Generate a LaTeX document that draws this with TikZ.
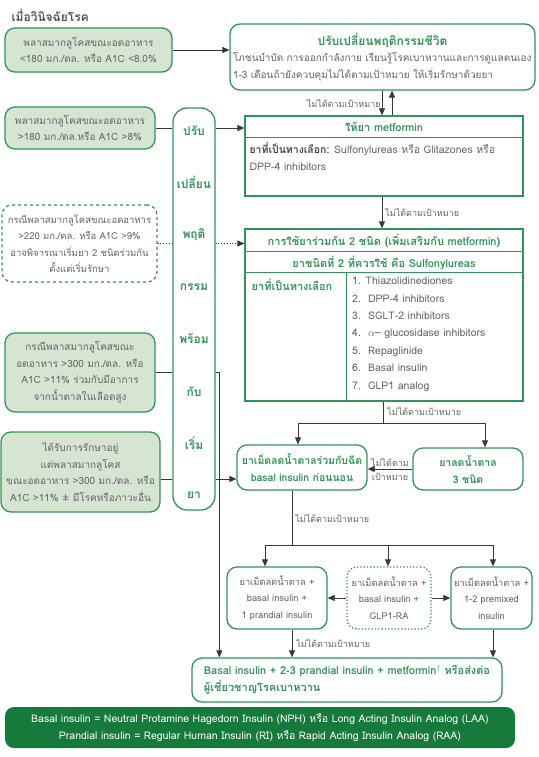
\documentclass[tikz,border=0pt]{standalone}
\usepackage{fontspec}
\setmainfont{Loma}[Script=Thai]
\definecolor{dmGreen}{RGB}{50,148,88}
\definecolor{dmFill}{RGB}{214,228,210}
\definecolor{dmDark}{RGB}{22,122,58}
\definecolor{dmGrey}{RGB}{100,100,100}
\definecolor{dmLine}{RGB}{55,55,55}
\usepackage{tikz}
\usetikzlibrary{arrows.meta,positioning,calc}

\begin{document}
\begin{tikzpicture}[x=1pt, y=-1pt,
  cbox/.style={draw=dmGreen, line width=1.3pt, rounded corners=10pt, fill=dmFill,
               text=dmGrey, align=center, inner sep=0pt,
               font=\fontsize{10}{16.5}\selectfont},
  wbox/.style={cbox, fill=white},
  tbox/.style={draw=dmGreen, line width=1.3pt, inner sep=0pt},
  head/.style={text=dmGreen, font=\fontsize{11}{17}\selectfont\bfseries, inner sep=0pt},
  body/.style={text=dmGrey, font=\fontsize{10.5}{17.4}\selectfont, align=left, inner sep=0pt},
  note/.style={text=dmGrey, font=\fontsize{9}{10}\selectfont, inner sep=1pt},
  link/.style={draw=dmLine, line width=0.8pt},
  arr/.style={link, -{Triangle[length=7pt,width=6pt]}}
]
  \useasboundingbox (0,0) rectangle (538,757);

  \node[anchor=west, text=dmGrey!80!black, font=\fontsize{12}{14}\selectfont\bfseries] (title) at (8,15) {เมื่อวินิจฉัยโรค};

  \node[cbox, minimum width=167pt, minimum height=44pt] (fast180low) at (88.5,50)
        {พลาสมากลูโคสขณะอดอาหาร\\<180 มก./ดล. หรือ A1C <8.0\%};
  \node[wbox, minimum width=305pt, minimum height=66pt, text width=299pt, align=left] (lifestyle) at (382.5,57)
        {{\centering\color{dmGreen}\fontsize{12}{17}\selectfont\bfseries ปรับเปลี่ยนพฤติกรรมชีวิต\par}
         โภชนบำบัด การออกกำลังกาย เรียนรู้โรคเบาหวานและการดูแลตนเอง\\
         1-3 เดือนถ้ายังควบคุมไม่ได้ตามเป้าหมาย ให้เริ่มรักษาด้วยยา};

  \node[cbox, minimum width=150pt, minimum height=42pt] (fast180) at (80,128)
        {พลาสมากลูโคสขณะอดอาหาร\\>180 มก./ดล.หรือ A1C >8\%};
  \node[wbox, dashed, minimum width=155pt, minimum height=77pt, font=\fontsize{9.5}{16.5}\selectfont] (fast220) at (79.5,243.5)
        {กรณีพลาสมากลูโคสขณะอดอาหาร\\>220 มก./ดล. หรือ A1C >9\%\\อาจพิจารณาเริ่มยา 2 ชนิดร่วมกัน\\ตั้งแต่เริ่มรักษา};
  \node[cbox, minimum width=150pt, minimum height=79pt] (fast300) at (80,372.5)
        {กรณีพลาสมากลูโคสขณะ\\อดอาหาร >300 มก./ดล. หรือ\\A1C >11\% ร่วมกับมีอาการ\\จากน้ำตาลในเลือดสูง};
  \node[cbox, minimum width=159pt, minimum height=80pt] (treated) at (80.5,472)
        {ได้รับการรักษาอยู่\\แต่พลาสมากลูโคส\\ขณะอดอาหาร >300 มก./ดล. หรือ\\A1C >11\% ± มีโรคหรือภาวะอื่น};

  \node[wbox, rounded corners=14pt, minimum width=42pt, minimum height=402pt] (behav) at (194,309) {};
  \foreach \w [count=\i] in {ปรับ,เปลี่ยน,พฤติ,กรรม,พร้อม,กับ,เริ่ม,ยา}
    \node[head, font=\fontsize{12}{14}\selectfont\bfseries] (word\i) at (194,78+52.2*\i) {\w};

  \node[tbox, minimum width=278pt, minimum height=80pt] (metformin) at (384,156) {};
  \node[head] (metformintitle) at (384,127) {ให้ยา metformin};
  \draw[tbox] ($(metformin.north west)+(0,22)$) -- ($(metformin.north east)+(0,22)$);
  \node[body, anchor=north west] (metforminalt) at ($(metformin.north west)+(5,27)$)
        {{\color{dmGrey!70!black}\bfseries ยาที่เป็นทางเลือก:} Sulfonylureas หรือ Glitazones หรือ\\DPP-4 inhibitors};

  \node[tbox, minimum width=278pt, minimum height=172pt] (combo) at (384,315) {};
  \node[head] (combotitle) at (384,241) {การใช้ยาร่วมกัน 2 ชนิด (เพิ่มเสริมกับ metformin)};
  \node[head] (combosecond) at (384,262.5) {ยาชนิดที่ 2 ที่ควรใช้ คือ Sulfonylureas};
  \draw[tbox] ($(combo.north west)+(0,23)$) -- ($(combo.north east)+(0,23)$);
  \draw[tbox] ($(combo.north west)+(0,44)$) -- ($(combo.north east)+(0,44)$);
  \draw[tbox] ($(combo.north west)+(102,44)$) -- ($(combo.south west)+(102,0)$);
  \node[head] (comboalt) at (292,285) {ยาที่เป็นทางเลือก};
  \node[body, anchor=north west] (combolist) at (352,277)
        {1. Thiazolidinediones\\2.\ \ DPP-4 inhibitors\\3.\ \ SGLT-2 inhibitors\\
         4.\ \ $\alpha$-- glucosidase inhibitors\\5.\ \ Repaglinide\\6.\ \ Basal insulin\\7.\ \ GLP1 analog};

  \node[wbox, head, font=\fontsize{10.5}{17}\selectfont\bfseries, minimum width=130pt, minimum height=45pt, align=center] (basal) at (302,467.5)
        {ยาเม็ดลดน้ำตาลร่วมกับฉีด\\basal insulin ก่อนนอน};
  \node[wbox, head, font=\fontsize{10.5}{17}\selectfont\bfseries, minimum width=110pt, minimum height=42pt, align=center] (triple) at (468,469)
        {ยาลดน้ำตาล\\3 ชนิด};

  \node[wbox, font=\fontsize{9.3}{16.5}\selectfont, minimum width=100pt, minimum height=62pt] (addbolus) at (277,598)
        {ยาเม็ดลดน้ำตาล +\\basal insulin +\\1 prandial insulin};
  \node[wbox, font=\fontsize{9.3}{16.5}\selectfont, dotted, minimum width=84pt, minimum height=62pt] (addglp) at (389,598)
        {ยาเม็ดลดน้ำตาล +\\basal insulin +\\GLP1-RA};
  \node[wbox, font=\fontsize{9.3}{16.5}\selectfont, minimum width=81pt, minimum height=62pt] (addpremix) at (491.5,598)
        {ยาเม็ดลดน้ำตาล +\\1-2 premixed\\insulin};

  \node[wbox, head, minimum width=310pt, minimum height=44pt, align=left] (final) at (347,680)
        {Basal insulin + 2-3 prandial insulin + metformin${}^{\dagger}$ หรือส่งต่อ\\ผู้เชี่ยวชาญโรคเบาหวาน};
  \node[fill=dmDark, rounded corners=9pt, text=white, minimum width=510pt, minimum height=41pt,
        align=center, font=\fontsize{10.5}{17}\selectfont] (legend) at (260,727.5)
        {Basal insulin = Neutral Protamine Hagedorn Insulin (NPH) หรือ Long Acting Insulin Analog (LAA)\\
         Prandial insulin = Regular Human Insulin (RI) หรือ Rapid Acting Insulin Analog (RAA)};

  \draw[arr] (fast180low.east) -- (fast180low.east -| lifestyle.west);
  \draw[arr] ([xshift=-0.5pt]lifestyle.south) -- ([xshift=-0.5pt]lifestyle.south |- metformin.north)
        node[note, midway, left] {ไม่ได้ตามเป้าหมาย};
  \draw[arr] ([xshift=9.5pt]lifestyle.south |- metformin.north) -- ([xshift=9.5pt]lifestyle.south);

  \draw[link] (fast180.east) -- (fast180.east -| behav.west);
  \draw[arr] (fast180.east -| behav.east) -- (fast180.east -| metformin.west);
  \draw[link, dotted] (fast220.east) -- (fast220.east -| behav.west);
  \draw[arr, dotted] (fast220.east -| behav.east) -- (fast220.east -| combo.west);
  \draw[link] (fast300.east) -- (fast300.east -| behav.west);
  \draw[arr] (fast300.east -| behav.east) -| ([xshift=28pt]final.north west);
  \coordinate (treatedout) at ([yshift=-7pt]treated.east);
  \draw[link] (treatedout) -- (treatedout -| behav.west);
  \draw[arr] (treatedout -| behav.east) -- (treatedout -| basal.west);

  \draw[arr] ([xshift=-2pt]metformin.south) -- ([xshift=-2pt]metformin.south |- combo.north)
        node[note, midway, right=2pt] {ไม่ได้ตามเป้าหมาย};

  \coordinate (split1) at ([xshift=-1pt,yshift=-22pt]combo.south);
  \draw[link] ([xshift=-1pt]combo.south) -- (split1)
        node[note, pos=0.45, right=3pt] {ไม่ได้ตามเป้าหมาย};
  \draw[arr] (split1) -| ([xshift=-4pt]basal.north);
  \draw[arr] (split1) -| ([xshift=17pt]triple.north);
  \draw[arr] (triple.west) -- (triple.west -| basal.east)
        node[note, midway, above=1pt] {ไม่ได้ตาม}
        node[note, midway, below=3pt] {เป้าหมาย};

  \coordinate (split2) at ([xshift=-10pt,yshift=-55pt]basal.south);
  \draw[link] ([xshift=-10pt]basal.south) -- (split2)
        node[note, midway, right=2pt] {ไม่ได้ตามเป้าหมาย};
  \draw[arr] (split2) -| ([xshift=-12pt]addbolus.north);
  \draw[arr] (split2) -| ([xshift=-1pt]addglp.north);
  \draw[arr] (split2) -| ([xshift=1.5pt]addpremix.north);
  \draw[arr] (addglp.west) -- (addbolus.east);
  \draw[arr] (addglp.east) -- (addpremix.west);

  \draw[arr] ([xshift=15pt]addbolus.south) -- ([xshift=15pt]addbolus.south |- final.north)
        node[note, midway, right=3pt] {ไม่ได้ตามเป้าหมาย};
  \draw[arr] ([xshift=1.5pt]addpremix.south) -- ([xshift=1.5pt]addpremix.south |- final.north);
\end{tikzpicture}
\end{document}
